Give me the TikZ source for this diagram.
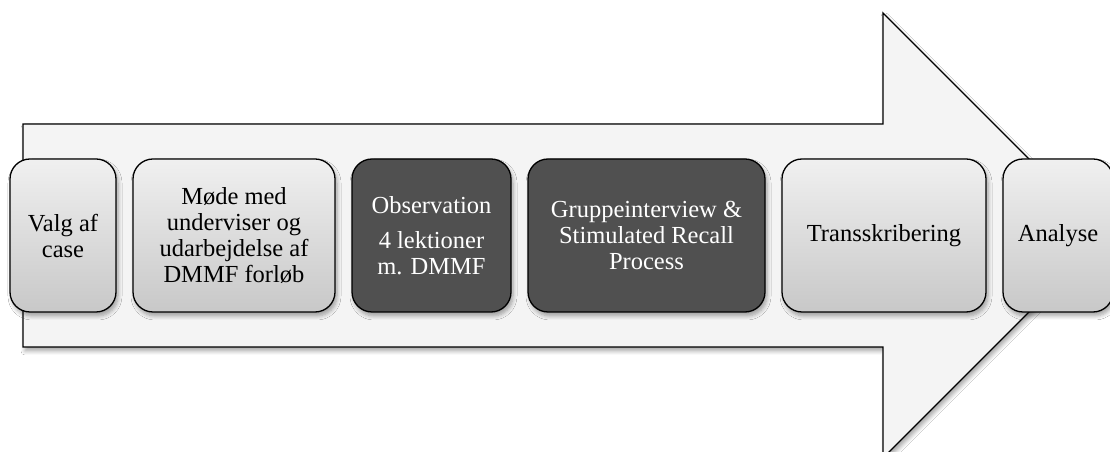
\documentclass[tikz,border=0pt]{standalone}
\usepackage{fontspec}
\setmainfont{Liberation Serif}
\usetikzlibrary{shadows.blur}
\definecolor{arrowfill}{HTML}{F4F4F4}
\definecolor{lighttop}{HTML}{F0F0F0}
\definecolor{lightbot}{HTML}{C8C8C8}
\definecolor{darkfill}{HTML}{505050}
\begin{document}
\begin{tikzpicture}[x=1pt,y=1pt,
  softshadow/.style={blur shadow={shadow xshift=2pt,shadow yshift=-4pt,shadow blur steps=6,shadow opacity=35,shadow blur radius=4pt}},
  stage/.style={draw=black,line width=1.3pt,rounded corners=20pt,softshadow,
    minimum height=153pt,inner sep=2pt,align=center,
    font=\fontsize{24.5}{26}\selectfont},
  lightstage/.style={stage,top color=lighttop,bottom color=lightbot,text=black},
  darkstage/.style={stage,fill=darkfill,text=white}]
\useasboundingbox (0,0) rectangle (1110,452);
\fill[white] (0,0) rectangle (1110,452);
% large process arrow behind the stages
\draw[line width=1.3pt,fill=arrowfill,softshadow,line join=miter]
  (23,105) -- (23,328) -- (883,328) -- (883,439) -- (1105.5,216.5)
  -- (883,-6) -- (883,105) -- cycle;
% stages along the arrow
\node[lightstage,minimum width=106pt] (valg) at (63,216.5) {Valg af\\case};
\node[lightstage,minimum width=202pt] (mode) at (234,216.5)
  {Møde med\\underviser og\\udarbejdelse af\\DMMF forløb};
\node[darkstage,minimum width=159pt] (obs) at (431.5,216.5)
  {Observation\\[9pt]4 lektioner\\m. DMMF};
\node[darkstage,minimum width=237pt] (grp) at (646.5,216.5)
  {Gruppeinterview \&\\Stimulated Recall\\Process};
\node[lightstage,minimum width=204pt] (trans) at (884,216.5) {Transskribering};
\node[lightstage,minimum width=110pt] (ana) at (1058,216.5) {Analyse};
\end{tikzpicture}
\end{document}
